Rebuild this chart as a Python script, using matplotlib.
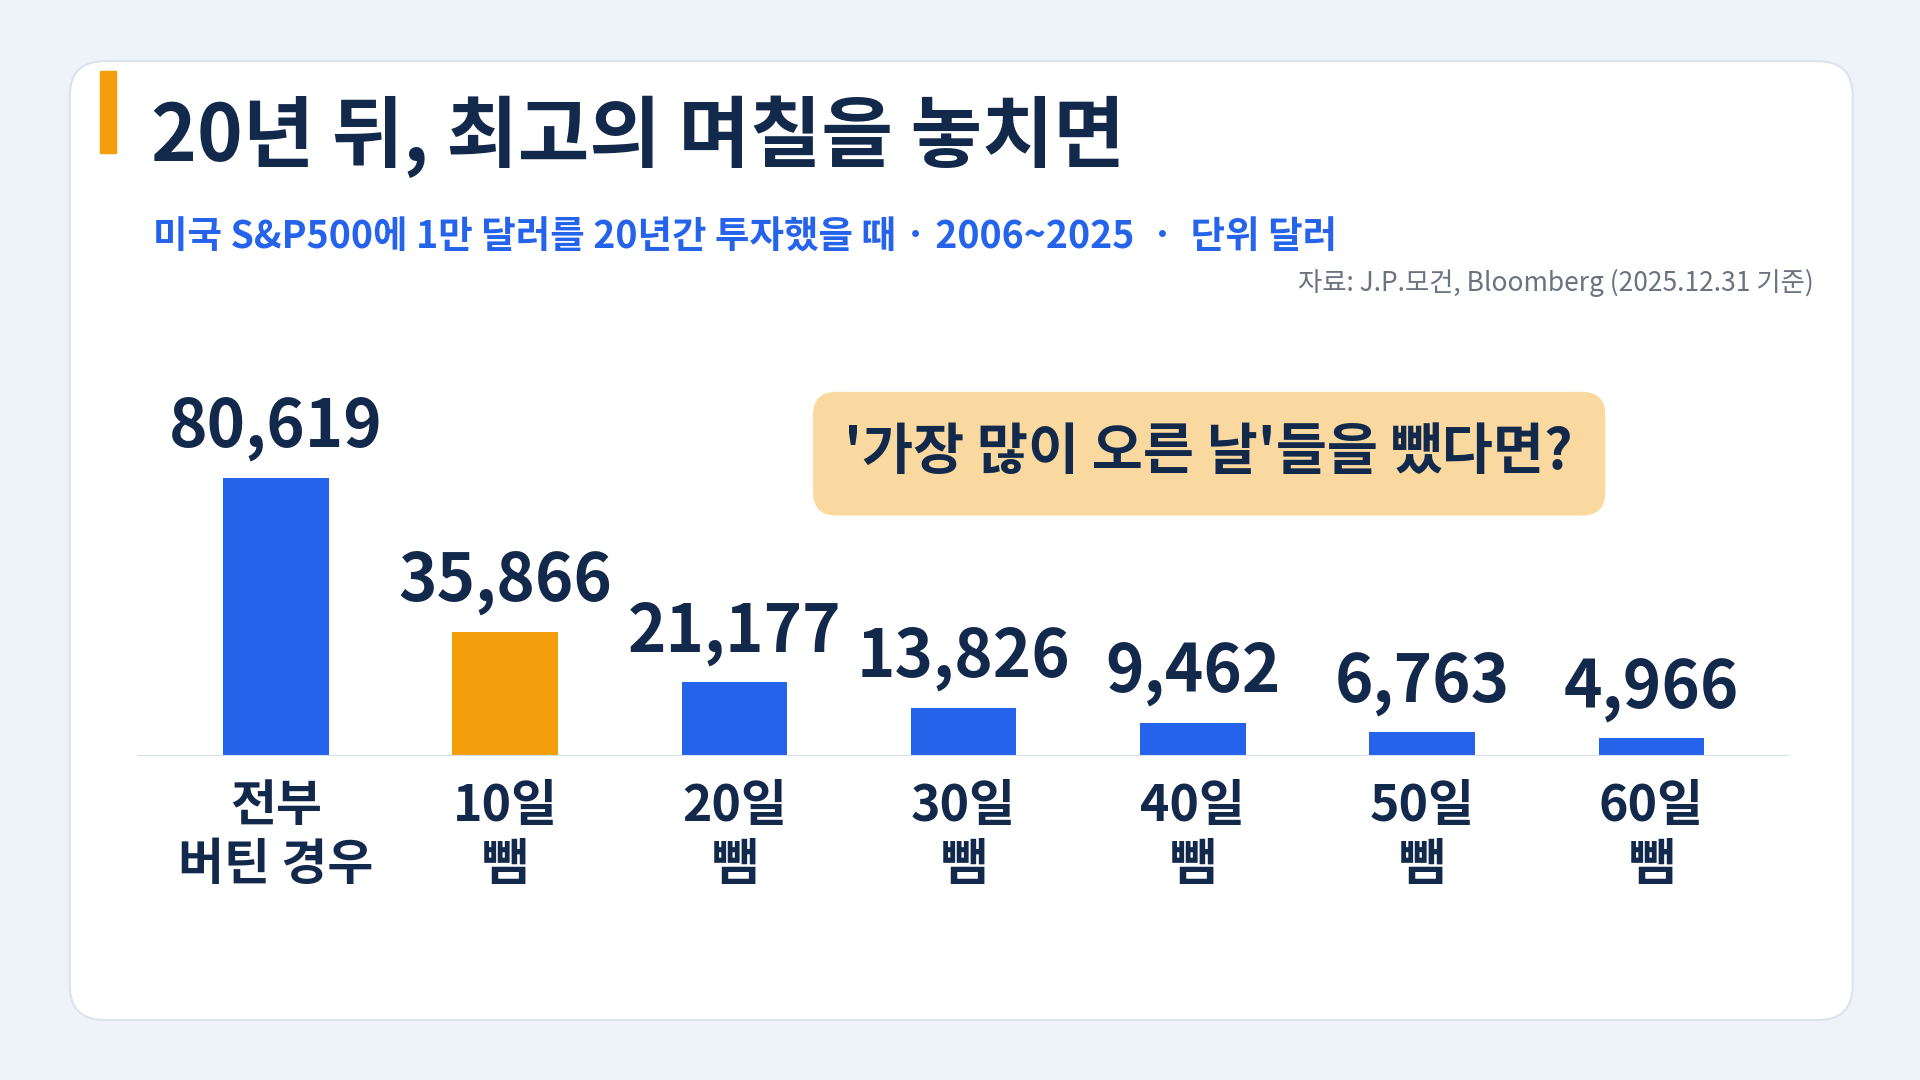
import matplotlib
matplotlib.use("Agg")
import matplotlib.pyplot as plt
from matplotlib.patches import FancyBboxPatch, Rectangle

plt.rcParams['font.family'] = ['Noto Sans CJK KR', 'DejaVu Sans']

categories = ["전부\n버틴 경우", "10일\n뺌", "20일\n뺌", "30일\n뺌", "40일\n뺌", "50일\n뺌", "60일\n뺌"]
values = [80619, 35866, 21177, 13826, 9462, 6763, 4966]
highlight = [False, True, False, False, False, False, False]

BLUE = "#2563EB"; ORANGE = "#F59E0B"; NAVY = "#13294B"
W, H = 1568, 882
def fx(x): return x / W
def fy(y): return 1 - y / H

fig = plt.figure(figsize=(19.2, 10.8), dpi=100)
fig.patch.set_facecolor("#EEF2F9")
bg = fig.add_axes([0, 0, 1, 1]); bg.set_axis_off(); bg.set_xlim(0, 1); bg.set_ylim(0, 1)
bg.add_patch(FancyBboxPatch((fx(57), fy(833)), fx(1513-57), (833-50)/H,
             boxstyle="round,pad=0,rounding_size=0.018", fc="white", ec="#DDE3EC", lw=1.5, mutation_aspect=1.78))
bg.add_patch(Rectangle((fx(82), fy(125)), fx(13), 67/H, color=ORANGE))
bg.text(fx(123), fy(112), "20년 뒤, 최고의 며칠을 놓치면", fontsize=56, fontweight='bold', color=NAVY, va='center')
bg.text(fx(125), fy(194), "미국 S&P500에 1만 달러를 20년간 투자했을 때 · 2006~2025  ·  단위 달러",
        fontsize=27, fontweight='bold', color=BLUE, va='center')
bg.text(fx(1481), fy(231), "자료: J.P.모건, Bloomberg (2025.12.31 기준)", fontsize=19, color="#6B7280", ha='right', va='center')
bg.add_patch(FancyBboxPatch((fx(664), fy(421)), fx(1311-664), (421-320)/H,
             boxstyle="round,pad=0,rounding_size=0.012", fc="#F9D9A0", ec="none", mutation_aspect=1.78))
bg.text(fx(987), fy(370), "'가장 많이 오른 날'들을 뺐다면?", fontsize=40, fontweight='bold', color=NAVY, ha='center', va='center')

top_px = 260
ax = fig.add_axes([fx(113), fy(617), fx(1461-113), (617-top_px)/H])
ax.set_axis_off()
x = list(range(len(values)))
ax.bar(x, values, width=0.46, color=[ORANGE if h else BLUE for h in highlight])
ax.set_xlim(-0.6, 6.6)
ax.set_ylim(0, 80619 * (617 - top_px) / 227)
ax.axhline(0, color="#D5DEEB", lw=1.5)
for xi, v, c in zip(x, values, categories):
    ax.annotate(f"{v:,}", (xi, v), xytext=(0, 12), textcoords='offset points', ha='center', va='bottom',
                fontsize=47, fontweight='bold', color=NAVY)
    ax.annotate(c, (xi, 0), xytext=(0, -18), textcoords='offset points', ha='center', va='top',
                fontsize=36, fontweight='bold', color=NAVY, linespacing=1.2)

fig.savefig("out.png", dpi=100, facecolor=fig.get_facecolor())
